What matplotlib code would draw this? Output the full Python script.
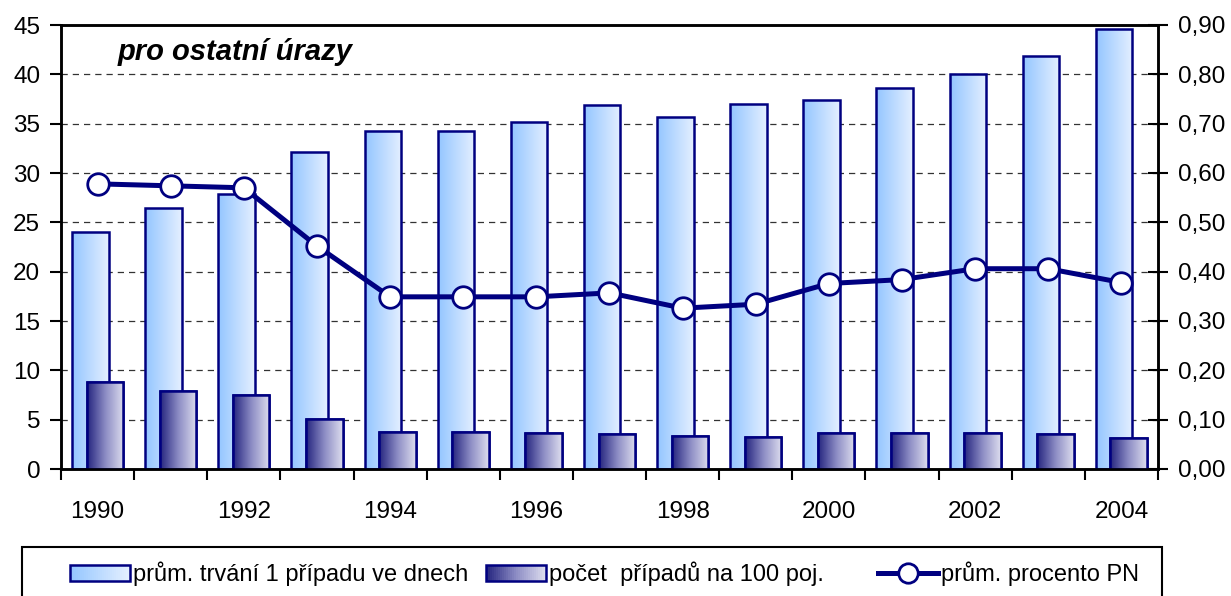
import numpy as np
import matplotlib
matplotlib.use("Agg")
import matplotlib.pyplot as plt
import matplotlib.font_manager as fm
from matplotlib.colors import LinearSegmentedColormap
from matplotlib.patches import Rectangle
from matplotlib.lines import Line2D
from matplotlib.legend_handler import HandlerBase
from matplotlib.ticker import FuncFormatter

plt.rcParams['font.family'] = ['Liberation Sans', 'DejaVu Sans']

# Data
years = list(range(1990, 2005))
duration = [24.0, 26.5, 27.9, 32.1, 34.3, 34.3, 35.2, 36.9, 35.7, 37.0, 37.4, 38.6, 40.0, 41.9, 44.6]
cases = [8.8, 7.9, 7.5, 5.1, 3.7, 3.7, 3.6, 3.5, 3.3, 3.2, 3.6, 3.6, 3.6, 3.5, 3.1]
pn_pct = [0.578, 0.574, 0.570, 0.452, 0.349, 0.349, 0.349, 0.357, 0.326, 0.334, 0.376, 0.384, 0.406, 0.406, 0.378]
labels = ['prům. trvání 1 případu ve dnech', 'počet  případů na 100 poj.', 'prům. procento PN']

navy = '#000080'
light_cmap = LinearSegmentedColormap.from_list('light', ['#94c6ff', '#e4efff'])
dark_cmap = LinearSegmentedColormap.from_list('dark', ['#262680', '#8c8cc4', '#dcdcee'])

# the original text is narrow (Arial Narrow look)
names = {f.name for f in fm.fontManager.ttflist}
if 'Liberation Sans Narrow' in names:
    txt_font, txt_size, leg_size = ['Liberation Sans Narrow', 'DejaVu Sans'], 21, 21
else:
    txt_font, txt_size, leg_size = ['Liberation Sans', 'DejaVu Sans'], 17.5, 17


def gradient_bars(ax, bars, cmap, z):
    grad = np.linspace(0, 1, 64).reshape(1, -1)
    for b in bars:
        x0, y0 = b.get_x(), b.get_y()
        w, h = b.get_width(), b.get_height()
        im = ax.imshow(grad, cmap=cmap, extent=[x0, x0 + w, y0, y0 + h],
                       aspect='auto', zorder=z, interpolation='bicubic')
        im.set_clip_path(b)


class GradientHandler(HandlerBase):
    def __init__(self, cmap):
        super().__init__()
        self.cmap = cmap

    def create_artists(self, legend, orig_handle, xdescent, ydescent,
                       width, height, fontsize, trans):
        arts = []
        n = 30
        for i in range(n):
            arts.append(Rectangle((-xdescent + i * width / n, -ydescent), width / n + 0.3, height,
                                  facecolor=self.cmap(i / (n - 1)), edgecolor='none', transform=trans))
        arts.append(Rectangle((-xdescent, -ydescent), width, height, fill=False,
                              edgecolor=navy, linewidth=1.8, transform=trans))
        return arts


fig = plt.figure(figsize=(12.31, 5.96), dpi=100)
ax = fig.add_axes([61 / 1231, 127 / 596, 1097 / 1231, 444 / 596])

x = np.arange(len(years))
bw = 0.5
off = 0.1

b1 = ax.bar(x - off, duration, width=bw, facecolor='none', edgecolor=navy, linewidth=1.8, zorder=3)
gradient_bars(ax, b1, light_cmap, 2.5)
b2 = ax.bar(x + off, cases, width=bw, facecolor='white', edgecolor=navy, linewidth=1.8, zorder=5)
gradient_bars(ax, b2, dark_cmap, 5.5)
for b in b2:
    b.set_zorder(4)
    ax.add_patch(Rectangle((b.get_x(), 0), b.get_width(), b.get_height(), fill=False,
                           edgecolor=navy, linewidth=1.8, zorder=6))

ax.set_xlim(-0.5, len(years) - 0.5)
ax.set_ylim(0, 45)
ax.set_yticks(np.arange(0, 46, 5))
ax.yaxis.grid(True, linestyle=(0, (5, 4)), color='#333333', linewidth=0.9, zorder=1)
ax.set_axisbelow(True)

ax.set_xticks(np.arange(-0.5, len(years), 1.0))
ax.set_xticklabels([])
ax.set_xticks(x[::2], minor=True)
ax.set_xticklabels([str(y) for y in years[::2]], minor=True, family=txt_font, fontsize=txt_size)
ax.tick_params(axis='x', which='major', direction='out', length=8, width=1.5)
ax.tick_params(axis='x', which='minor', length=0, pad=23)
ax.tick_params(axis='y', direction='out', length=8, width=1.5, pad=7)
for t in ax.get_yticklabels():
    t.set_family(txt_font)
    t.set_fontsize(txt_size)
for s in ax.spines.values():
    s.set_linewidth(1.8)

ax2 = ax.twinx()
ax2.plot(x, pn_pct, color=navy, linewidth=3.6, marker='o', markersize=15.5,
         markerfacecolor='white', markeredgecolor=navy, markeredgewidth=2, zorder=6)
ax2.set_ylim(0, 0.9)
ax2.set_yticks(np.arange(0, 0.91, 0.1))
ax2.yaxis.set_major_formatter(FuncFormatter(lambda v, p: f"{v:.2f}".replace('.', ',')))
ax2.tick_params(axis='y', direction='inout', length=15, width=1.5, pad=7)
for t in ax2.get_yticklabels():
    t.set_family(txt_font)
    t.set_fontsize(txt_size)
for s in ax2.spines.values():
    s.set_linewidth(1.8)

ax.text(57 / 1097, 1 - 27 / 444, 'pro ostatní úrazy', transform=ax.transAxes, fontsize=21,
        fontweight='bold', fontstyle='italic', va='center', ha='left')

# legend box (bottom clipped by figure edge, as in the original)
fig.patches.append(Rectangle((22 / 1231, -0.05), 1140 / 1231, 49 / 596 + 0.05,
                             transform=fig.transFigure, fill=False, edgecolor='black',
                             linewidth=1.5, clip_on=False))

h1 = Rectangle((0, 0), 1, 1)
h2 = Rectangle((0, 0), 1, 1)
h3 = Line2D([], [], color=navy, linewidth=3.6, marker='o', markersize=14,
            markerfacecolor='white', markeredgecolor=navy, markeredgewidth=2)
handler_map = {h1: GradientHandler(light_cmap), h2: GradientHandler(dark_cmap)}
leg_x = [70, 486, 878]
for h, lab, lx in zip([h1, h2, h3], labels, leg_x):
    fig.legend([h], [lab], handler_map=handler_map,
               loc='center left', bbox_to_anchor=(lx / 1231, 1 - 574 / 596), frameon=False,
               prop={'family': txt_font, 'size': leg_size},
               handlelength=60 / (leg_size * 100 / 72), handleheight=0.7,
               handletextpad=0.12, borderpad=0, borderaxespad=0)

fig.savefig('out.png', dpi=100)
